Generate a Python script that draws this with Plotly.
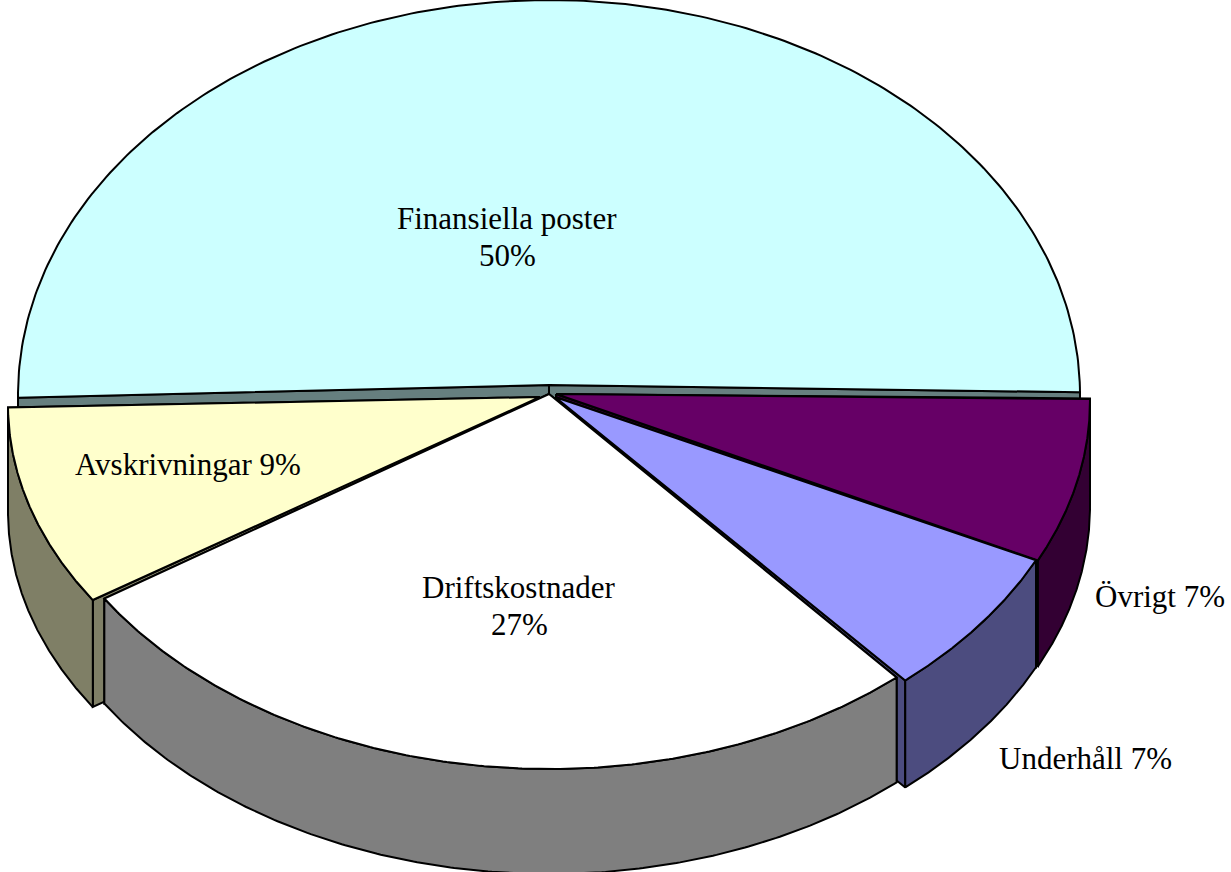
import numpy as np
import plotly.graph_objects as go

# Data
categories = ["Finansiella poster", "Övrigt", "Underhåll", "Driftskostnader", "Avskrivningar"]
shares = [50.0, 7.2, 6.5, 27.3, 9.0]
label_text = ["Finansiella poster", "50%", "Övrigt 7%", "Underhåll 7%", "Driftskostnader", "27%", "Avskrivningar 9%"]

# Styles and layout (pie geometry in pixels; explosion given per slice)
top_colors = ["#CCFFFF", "#660066", "#9999FF", "#FFFFFF", "#FFFFCC"]
side_colors = ["#667F7F", "#330033", "#4C4C7F", "#7F7F7F", "#7F7F66"]
apex_x = [549, 556, 555, 549, 540]
apex_y = [385, 394, 397, 394, 397]
centre_x = [549, 556, 555, 549, 540]
centre_y = [395, 401, 400, 397, 405]
radius_x = [531, 534, 533, 529, 532]
radius_y = [395, 370, 372, 372, 360]
depth = [105, 106, 107, 105, 107]
start_angle = 179.6
draw_order = [0, 1, 2, 4, 3]
label_x = [507, 507, 1160, 1085, 519, 519, 188]
label_y = [218, 255, 596, 758, 587, 624, 464]

spans = np.array(shares) / sum(shares) * 360.0
starts = start_angle + np.concatenate([[0], np.cumsum(spans)[:-1]])

fig = go.Figure()


def poly(xs, ys, color):
    fig.add_trace(go.Scatter(x=list(xs), y=list(ys), mode="lines", fill="toself", fillcolor=color,
                             line=dict(color="black", width=2), hoverinfo="skip", showlegend=False))


for i in draw_order:
    ax, ay = apex_x[i], apex_y[i]
    d = depth[i]
    t = np.radians(np.linspace(starts[i], starts[i] + spans[i], 240))
    px = centre_x[i] + radius_x[i] * np.cos(t)
    py = centre_y[i] + radius_y[i] * np.sin(t)
    # radial cut faces
    for k in (0, -1):
        poly([ax, px[k], px[k], ax, ax], [ay, py[k], py[k] + d, ay + d, ay], side_colors[i])
    # outer wall, only where it faces the viewer
    front = np.sin(t) >= 0
    if front.sum() > 1:
        wx, wy = px[front], py[front]
        poly(np.r_[wx, wx[::-1], wx[0]], np.r_[wy, wy[::-1] + d, wy[0]], side_colors[i])
    # top face
    poly(np.r_[ax, px, ax], np.r_[ay, py, ay], top_colors[i])

for text, x, y in zip(label_text, label_x, label_y):
    fig.add_annotation(x=x, y=y, text=text, showarrow=False, xanchor="center", yanchor="middle",
                       font=dict(family="Liberation Serif", size=31, color="black"), align="center")

fig.update_layout(width=1231, height=872, margin=dict(l=0, r=0, t=0, b=0), autosize=False,
                  paper_bgcolor="white", plot_bgcolor="white", showlegend=False,
                  xaxis=dict(range=[0, 1231], visible=False, fixedrange=True),
                  yaxis=dict(range=[872, 0], visible=False, fixedrange=True))
fig.write_html("out.html", config=dict(displayModeBar=False),
               post_script="document.body.style.margin='0';document.documentElement.style.overflow='hidden';")
